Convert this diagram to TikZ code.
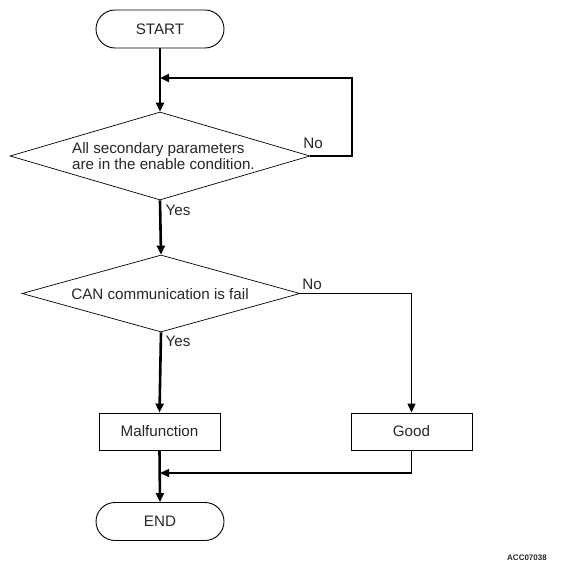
\documentclass[tikz,border=0pt]{standalone}
\usepackage{fontspec}
\setmainfont{Liberation Sans}
\usetikzlibrary{shapes.geometric,arrows.meta}
\begin{document}
\begin{tikzpicture}[x=1pt,y=-1pt,
  every node/.style={font=\fontsize{15.2}{17}\selectfont, text=black!85},
  term/.style={draw, rectangle, rounded corners=19pt, minimum width=128pt, minimum height=38pt, inner sep=0pt, line width=0.9pt},
  proc/.style={draw, rectangle, minimum width=121pt, minimum height=37pt, inner sep=0pt, line width=0.9pt},
  dec/.style={draw, diamond, inner sep=0pt, line width=0.7pt},
  thickln/.style={line width=2.6pt, -{Triangle[length=9pt,width=8pt]}},
  thinln/.style={line width=1.3pt, -{Triangle[length=9pt,width=8pt]}},
  lbl/.style={inner sep=0pt}
]
\useasboundingbox (0,0) rectangle (562,572);
\node[term] (start) at (160,29) {START};
\node[dec, minimum width=300pt, minimum height=88pt, aspect=3.4] (d1) at (160,156) {};
\node[lbl, align=left, anchor=west, font=\fontsize{15.2}{16.5}\selectfont] (d1t) at (72,156) {All secondary parameters\\are in the enable condition.};
\node[dec, minimum width=278pt, minimum height=77pt, aspect=3.6] (d2) at (161,293.5) {};
\node[lbl] (d2t) at (160,294) {CAN communication is fail};
\node[proc] (mal) at (159.5,431.5) {Malfunction};
\node[proc] (good) at (411.5,431.5) {Good};
\node[term] (end) at (160,521.5) {END};
\node[lbl] (no1) at (313,143) {No};
\node[lbl] (yes1) at (178,210) {Yes};
\node[lbl] (no2) at (312,284) {No};
\node[lbl] (yes2) at (178,341) {Yes};
\node[lbl, font=\fontsize{8}{9}\selectfont\bfseries] (code) at (527,558) {ACC07038};
\coordinate (loopin) at (160,78);
\coordinate (merge) at (160,473);
\draw[thickln] (start.south) -- (d1.north);
\draw[thickln, line join=miter] (d1.east) -- (352,156) -- (352,78) -- (loopin);
\draw[thickln] (d1.south) -- (d2.north);
\draw[thickln] (d2.south) -- (mal.north);
\draw[thinln] (d2.east) -| (good.north);
\draw[thickln] (mal.south) -- (end.north);
\draw[thinln] (good.south) |- (merge);
\end{tikzpicture}
\end{document}
